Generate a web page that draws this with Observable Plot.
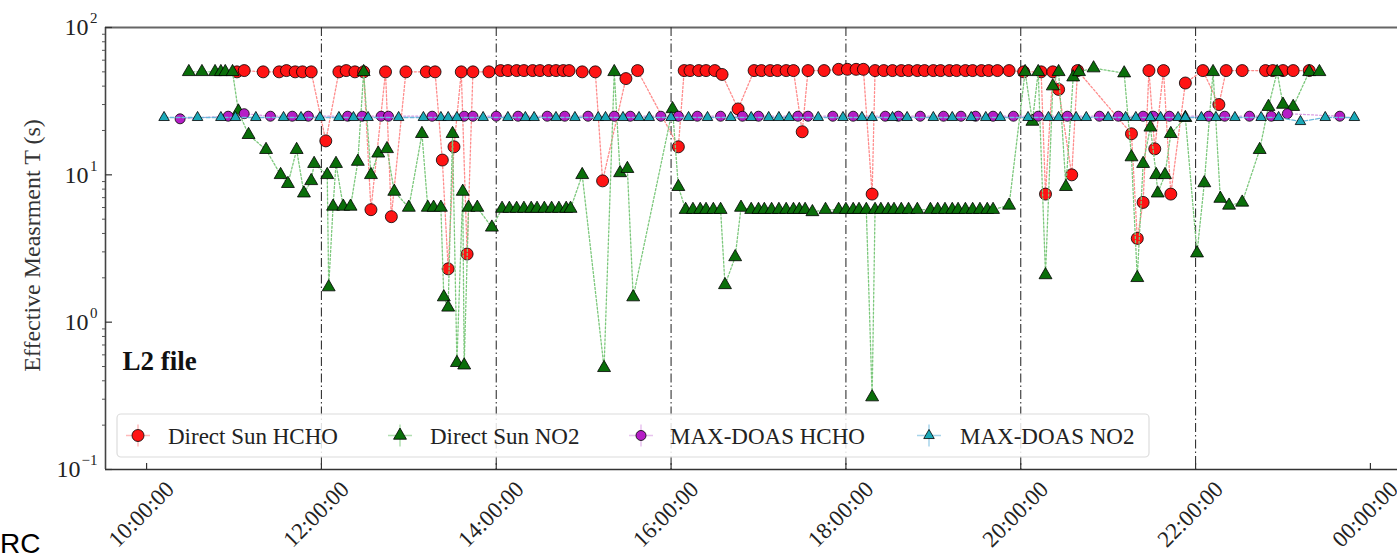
<!DOCTYPE html>
<html><head><meta charset="utf-8">
<script src="https://cdn.jsdelivr.net/npm/d3@7"></script>
<script src="https://cdn.jsdelivr.net/npm/@observablehq/plot@0.6"></script>
<style>
html,body{margin:0;padding:0;background:#fff;}
#chart{position:relative;width:1397px;height:557px;overflow:hidden;}
</style></head>
<body><div id="chart"></div>
<script>
// ---------- data ----------
const seriesNames = ["Direct Sun HCHO", "Direct Sun NO2", "MAX-DOAS HCHO", "MAX-DOAS NO2"];

const dsHchoTime = [
  "11:02","11:07","11:20","11:31","11:36","11:42","11:47","11:53",
  "12:03",
  "12:12","12:17","12:23","12:29",
  "12:34",
  "12:44",
  "12:48",
  "12:58","13:12","13:18",
  "13:23","13:27","13:31",
  "13:36",
  "13:40",
  "13:44","13:55","14:03","14:08","14:14","14:19","14:25","14:30","14:36","14:41","14:46","14:50","14:59","15:08",
  "15:13",
  "15:29",
  "15:37",
  "16:05",
  "16:09","16:13","16:19","16:24","16:30",
  "16:35",
  "16:46",
  "16:57","17:02","17:08","17:13","17:19","17:24",
  "17:30",
  "17:34","17:45","17:55","18:01","18:07","18:12",
  "18:18",
  "18:20","18:26","18:32","18:38","18:43","18:49","18:54","19:00","19:05","19:11","19:16","19:22","19:27","19:33","19:38","19:44","19:52","20:02","20:14",
  "20:17",
  "20:22",
  "20:26",
  "20:35",
  "20:39",
  "21:16","21:20","21:24",
  "21:28",
  "21:32",
  "21:38",
  "21:43",
  "21:53",
  "22:05",
  "22:16",
  "22:21","22:32","22:48","22:53","23:00","23:07","23:18"
];
const dsHchoValue = [
  50,51,50,50,51,50,50,50,
  17,
  50,51,50,50,
  5.8,
  50,
  5.2,
  50,50,50,
  12.6,2.3,15.5,
  50,
  2.9,
  50,50,51,51,51,51,51,51,51,51,51,51,50,50,
  9.1,
  45,
  51,
  15.5,
  51,51,51,51,51,
  48,
  28,
  51,51,51,51,51,51,
  19.6,
  51,51,52,52,52,52,
  7.4,
  51,51,51,51,51,51,51,51,51,51,51,51,51,51,51,51,51,50,50,
  7.4,
  50,
  38,
  10,
  51,
  19,3.7,6.5,
  51,
  15,
  51,
  7.4,
  42,
  51,
  30,
  51,51,51,51,51,51,51
];

const dsNo2Time = [
  "10:29","10:38","10:47","10:51","10:54","10:59",
  "11:03",
  "11:10","11:22","11:32","11:37","11:43","11:48","11:53","11:55",
  "12:04","12:05","12:08","12:10","12:15","12:20","12:25",
  "12:29",
  "12:34","12:39","12:45","12:50",
  "13:00","13:09","13:13","13:17","13:22",
  "13:24","13:27","13:30","13:33","13:37","13:38","13:41","13:47","13:57",
  "14:04","14:09","14:14","14:19","14:24","14:28","14:33","14:38","14:43","14:48","14:51",
  "14:59","15:14","15:21","15:25","15:30","15:34",
  "16:01","16:05",
  "16:10","16:15","16:20","16:24","16:29","16:34",
  "16:37","16:44","16:48",
  "16:55","17:00","17:04","17:09","17:14","17:19","17:24","17:28","17:32",
  "17:37",
  "17:46","17:55","18:00","18:05","18:09","18:14",
  "18:18",
  "18:20","18:24","18:29","18:33","18:38","18:43","18:49","18:58","19:03","19:08","19:13","19:17","19:22","19:27","19:32","19:37","19:41",
  "19:52",
  "20:03","20:08","20:12","20:17","20:22","20:26","20:31","20:36","20:40","20:50",
  "21:11","21:16","21:20","21:24","21:29","21:33","21:34","21:39","21:43",
  "21:53","22:01","22:06","22:12","22:17","22:23","22:32","22:44","22:50","22:56","23:00","23:07","23:18","23:25"
];
const dsNo2Value = [
  50,50,50,50,50,50,
  27,
  18.7,14.8,10,8.7,14.8,7.5,9.1,11.9,
  10,1.73,6.1,11.9,6.1,6.1,12.3,
  50,
  10,14,15,7.7,
  6,19,6,6,6,
  1.48,1.26,19,0.53,7.7,0.51,6,6,4.4,
  5.9,5.9,5.9,5.9,5.9,5.9,5.9,5.9,5.9,5.9,5.9,
  10,0.49,50,10.3,11,1.48,
  28,8.3,
  5.8,5.8,5.8,5.8,5.8,5.8,
  1.79,2.77,6,
  5.8,5.8,5.8,5.8,5.8,5.8,5.8,5.8,5.8,
  5.6,
  5.8,5.8,5.8,5.8,5.8,5.8,
  0.31,
  5.8,5.8,5.8,5.8,5.8,5.8,5.8,5.8,5.8,5.8,5.8,5.8,5.8,5.8,5.8,5.8,5.8,
  6.2,
  50,23,50,2.09,40,50,8.3,46,50,53,
  49,13.2,2.0,11.9,21,10,7.5,10,19,
  24.4,2.94,8.8,50,6.9,6.2,6.5,14.8,29,50,30,29,50,50
];

const mxHchoTime = [
  "10:23","10:56","11:07","11:25","11:40","11:51","12:18","12:28","12:41","12:46",
  "13:16","13:38","13:44","14:00","14:15","14:35","14:47","15:03","15:21","15:32",
  "15:53","16:05","16:18","16:34","16:49","17:00","17:27","17:34","17:51","18:05",
  "18:27","18:36","18:51","19:07","19:19","19:29","19:41","19:55","20:12","20:32",
  "20:54","21:07","21:24","21:31","21:42","22:09","22:20","22:37","22:52","23:03","23:39"
];
const mxHchoValue = [
  24,25,26,25,25,25,25,25,25,25,
  25,25,25,25,25,25,25,25,25,25,
  25,25,25,25,25,25,25,25,25,25,
  25,25,25,25,25,25,25,25,25,25,
  25,25,25,25,25,25,25,25,25,26,25
];

const mxNo2Time = [
  "10:12","10:35","10:51","11:01","11:15","11:34","11:46","11:59","12:12","12:22",
  "12:32","12:53","13:10","13:22","13:27","13:33","13:51","14:08","14:20","14:26",
  "14:41","14:54","15:10","15:15","15:27","15:38","15:45","16:00","16:12","16:25",
  "16:41","16:55","17:07","17:14","17:21","17:41","17:58","18:11","18:18","18:32",
  "18:42","19:00","19:13","19:26","19:36","19:46","20:05","20:19","20:26","20:38",
  "20:45","21:00","21:12","21:19","21:29","21:36","21:48","21:53","22:04","22:14",
  "22:27","22:45","22:57","23:12","23:29","23:49"
];
const mxNo2Value = [
  24.5,24.5,24.5,24.5,24.5,24.5,24.5,24.5,24.5,24.5,
  24.5,24.5,24.5,24.5,24.5,24.5,24.5,24.5,24.5,24.5,
  24.5,24.5,24.5,24.5,24.5,24.5,24.5,24.5,24.5,24.5,
  24.5,24.5,24.5,24.5,24.5,24.5,24.5,24.5,24.5,24.5,
  24.5,24.5,24.5,24.5,24.5,24.5,24.5,24.5,24.5,24.5,
  24.5,24.5,24.5,24.5,24.5,24.5,24.5,24.5,24.5,24.5,
  24.5,24.5,24.5,23,24.5,24.5
];

const xTickHours = [10, 12, 14, 16, 18, 20, 22, 24];
const xTickLabels = ["10:00:00","12:00:00","14:00:00","16:00:00","18:00:00","20:00:00","22:00:00","00:00:00"];
const vlineHours = [12, 14, 16, 18, 20, 22];
const yTicks = [0.1, 1, 10, 100];
const yTickExponents = ["\u22121", "0", "1", "2"];
const yMinorTicks = [0.2,0.3,0.4,0.5,0.6,0.7,0.8,0.9, 2,3,4,5,6,7,8,9, 20,30,40,50,60,70,80,90];

// ---------- helpers ----------
const DAY = Date.UTC(2021, 5, 1);
const atHours = h => new Date(DAY + h * 3600e3);
const parseT = s => { const [h, m] = s.split(":").map(Number); return atHours(h + m / 60); };
const rows = (times, values) => times.map((t, i) => ({t: parseT(t), v: values[i]}));

const dsHcho = rows(dsHchoTime, dsHchoValue);
const dsNo2 = rows(dsNo2Time, dsNo2Value);
const mxHcho = rows(mxHchoTime, mxHchoValue);
const mxNo2 = rows(mxNo2Time, mxNo2Value);

const colors = {
  red: "#ff1414", redLine: "#ff8c8c",
  green: "#0a6e0a", greenLine: "#7cc87c",
  purple: "#b51dc6", purpleLine: "#d99be3",
  cyan: "#1aa9b8", cyanLine: "#6bb8dc"
};
const serif = "'Liberation Serif','Times New Roman',serif";
const xTickDates = xTickHours.map(atHours);

const chart = Plot.plot({
  width: 1397, height: 557,
  marginLeft: 105, marginRight: 0, marginTop: 27, marginBottom: 88,
  style: {fontFamily: serif, background: "#fff", color: "#222", overflow: "visible"},
  x: {type: "utc", domain: [atHours(9.53), atHours(24.31)], label: null},
  y: {type: "log", domain: [0.1, 100], label: null},
  marks: [
    // frame (top, left, bottom)
    Plot.ruleY([100], {stroke: "#666", strokeWidth: 2}),
    Plot.ruleY([0.1], {stroke: "#333", strokeWidth: 1.6}),
    Plot.ruleX([atHours(9.53)], {stroke: "#444", strokeWidth: 1.6}),
    // ticks
    Plot.axisX({ticks: xTickDates, tickSize: -6, tickFormat: () => "", stroke: "#333", strokeWidth: 1.2, label: null}),
    Plot.axisY({ticks: yTicks, tickSize: -7, tickFormat: () => "", stroke: "#333", strokeWidth: 1.2, label: null}),
    Plot.axisY({ticks: yMinorTicks, tickSize: 3, tickFormat: () => "", stroke: "#555", label: null}),
    // tick labels
    Plot.text(xTickDates, {x: d => d, frameAnchor: "bottom", dy: 50, rotate: -45, text: (d, i) => xTickLabels[i], textAnchor: "middle", fontSize: 23, fill: "#222"}),
    Plot.text(yTicks.slice(1), {y: d => d, frameAnchor: "left", dx: -17, text: () => "10", textAnchor: "end", fontSize: 24, fill: "#222"}),
    Plot.text(yTicks.slice(0, 1), {y: d => d, frameAnchor: "left", dx: -25, text: () => "10", textAnchor: "end", fontSize: 24, fill: "#222"}),
    Plot.text(yTicks, {y: d => d, frameAnchor: "left", dx: -8, dy: -9, text: (d, i) => yTickExponents[i], textAnchor: "end", fontSize: 15, fill: "#222"}),
    // titles
    Plot.text(["Effective Measrment T (s)"], {frameAnchor: "left", dx: -73, dy: -3, rotate: -90, textAnchor: "middle", fontSize: 24, fill: "#333"}),
    Plot.text(["L2 file"], {frameAnchor: "bottom-left", dx: 17, dy: -100, textAnchor: "start", fontWeight: "bold", fontSize: 27, fill: "#111"}),
    // vertical dash-dot lines
    Plot.ruleX(vlineHours.map(atHours), {stroke: "#333", strokeWidth: 1.1, strokeDasharray: "9,3,1.5,3", ariaLabel: "vlines"}),
    // series
    Plot.line(dsHcho, {x: "t", y: "v", stroke: colors.redLine, strokeWidth: 1.3, strokeDasharray: "2,2"}),
    Plot.dot(dsHcho, {x: "t", y: "v", r: 6, fill: colors.red, stroke: "#000", strokeWidth: 0.8}),
    Plot.line(dsNo2, {x: "t", y: "v", stroke: colors.greenLine, strokeWidth: 1.3, strokeDasharray: "2,2"}),
    Plot.dot(dsNo2, {x: "t", y: "v", r: 4.8, symbol: "triangle", fill: colors.green, stroke: "#000", strokeWidth: 0.8}),
    Plot.line(mxHcho, {x: "t", y: "v", stroke: colors.purpleLine, strokeWidth: 1.2, strokeDasharray: "2,2"}),
    Plot.dot(mxHcho, {x: "t", y: "v", r: 5, fill: colors.purple, stroke: "#000", strokeWidth: 0.8}),
    Plot.line(mxNo2, {x: "t", y: "v", stroke: colors.cyanLine, strokeWidth: 1.3, strokeDasharray: "4,2"}),
    Plot.dot(mxNo2, {x: "t", y: "v", r: 3.9, symbol: "triangle", fill: colors.cyan, stroke: "#000", strokeWidth: 0.8})
  ]
});

// ---------- legend (drawn beneath the dash-dot lines, as in the reference) ----------
const svg = d3.select(chart);
const leg = svg.insert("g", 'g[aria-label="vlines"]').attr("class", "legend").attr("text-anchor", "start");
leg.append("rect").attr("x", 117).attr("y", 414).attr("width", 1032).attr("height", 43).attr("rx", 4)
  .attr("fill", "#fff").attr("fill-opacity", 0.85).attr("stroke", "#dcdcdc").attr("stroke-width", 1.2);
const legendItems = [
  {name: seriesNames[0], fill: colors.red, line: colors.redLine, sym: d3.symbolCircle, r: 6, mx: 138, tx: 168},
  {name: seriesNames[1], fill: colors.green, line: colors.greenLine, sym: d3.symbolTriangle, r: 4.8, mx: 400, tx: 430},
  {name: seriesNames[2], fill: colors.purple, line: colors.purpleLine, sym: d3.symbolCircle, r: 5, mx: 641, tx: 670},
  {name: seriesNames[3], fill: colors.cyan, line: colors.cyanLine, sym: d3.symbolTriangle, r: 3.9, mx: 929, tx: 960}
];
const cy = 435.5;
for (const it of legendItems) {
  const g = leg.append("g");
  g.append("line").attr("x1", it.mx - 12).attr("x2", it.mx + 12).attr("y1", cy).attr("y2", cy)
    .attr("stroke", it.line).attr("stroke-opacity", 0.6).attr("stroke-width", 1.5);
  g.append("line").attr("x1", it.mx).attr("x2", it.mx).attr("y1", cy - 11).attr("y2", cy + 11)
    .attr("stroke", it.line).attr("stroke-opacity", 0.6).attr("stroke-width", 1.5);
  g.append("path").attr("transform", `translate(${it.mx},${cy})`)
    .attr("d", d3.symbol(it.sym, Math.PI * it.r * it.r)())
    .attr("fill", it.fill).attr("stroke", "#000").attr("stroke-width", 0.8);
  g.append("text").attr("x", it.tx).attr("y", cy).attr("dy", "0.35em").attr("text-anchor", "start")
    .attr("font-family", serif).attr("font-size", 23).attr("fill", "#222").text(it.name);
}
// stray caption fragment at the bottom-left of the reference
svg.append("text").attr("x", 0).attr("y", 553).attr("text-anchor", "start")
  .attr("font-family", "'Liberation Sans',Arial,sans-serif")
  .attr("font-size", 28).attr("fill", "#000").text("RC");

document.getElementById("chart").appendChild(chart);
</script>
</body></html>
